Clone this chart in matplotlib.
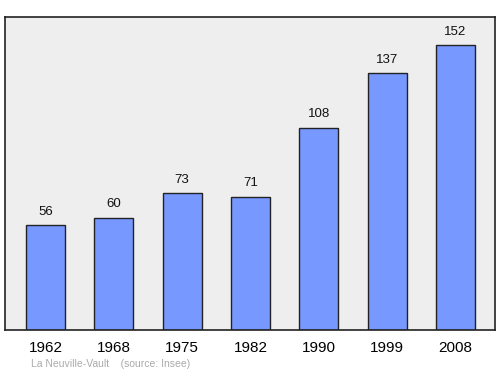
import matplotlib
matplotlib.use("Agg")
import matplotlib.pyplot as plt

plt.rcParams["font.family"] = ["Liberation Sans", "DejaVu Sans"]

# Population data
years = ["1962", "1968", "1975", "1982", "1990", "1999", "2008"]
population = [56, 60, 73, 71, 108, 137, 152]

fig = plt.figure(figsize=(5.0, 3.74), dpi=100)
ax = fig.add_axes([5 / 500, 1 - 330 / 374, 490 / 500, 313 / 374])
ax.set_facecolor("#eeeeee")

x = range(len(years))
bars = ax.bar(x, population, width=0.57, color="#7799ff",
              edgecolor="#222222", linewidth=1)

for xi, v in zip(x, population):
    ax.text(xi, v + 4, str(v), ha="center", va="bottom", fontsize=9.5,
            color="#111111")

ax.set_xlim(-0.593, 6.578)
ax.set_ylim(0, 167)
ax.set_yticks([])
ax.set_xticks(list(x))
ax.set_xticklabels(years, fontsize=11)
ax.tick_params(axis="x", length=0, pad=8)
for s in ax.spines.values():
    s.set_color("#222222")
    s.set_linewidth(1.2)

fig.text(31 / 500, 1 - 364 / 374, "La Neuville-Vault    (source: Insee)",
         fontsize=7.5, color="#aaaaaa", va="center", ha="left")

fig.savefig("out.png", dpi=100)
